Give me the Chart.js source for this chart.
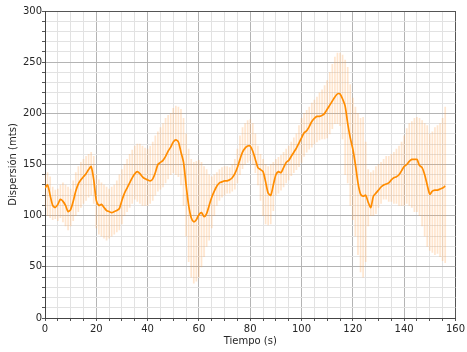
<!DOCTYPE html>
<html>
<head>
<meta charset="utf-8">
<script src="https://cdn.jsdelivr.net/npm/chart.js@4/dist/chart.umd.min.js"></script>
<style>
  html, body { margin: 0; padding: 0; background: #fff; }
  #wrap { width: 467px; height: 352px; }
</style>
</head>
<body>
<div id="wrap"><canvas id="dispChart"></canvas></div>
<script>
// tiempo (s), una muestra por segundo
const tiempos = Array.from({ length: 157 }, (_, i) => i);

// dispersión media (mts)
const dispersion = [
  127, 130, 120, 110, 108, 111, 116, 114, 110, 104,
  106, 114, 124, 131, 135, 138, 141, 145, 148, 135,
  115, 110, 111, 108, 105, 104, 103, 104, 105, 107,
  115, 122, 127, 132, 137, 141, 143, 141, 138, 136,
  135, 134, 136, 142, 150, 152, 154, 158, 163, 167,
  172, 174, 172, 162, 152, 130, 110, 98, 94, 96,
  101, 103, 99, 102, 110, 118, 124, 129, 132, 133,
  134, 134, 135, 137, 141, 147, 155, 162, 166, 168,
  168, 163, 155, 147, 145, 143, 133, 122, 120, 130,
  140, 143, 142, 147, 152, 154, 158, 162, 166, 171,
  176, 181, 183, 187, 192, 195, 197, 197, 198, 200,
  204, 208, 212, 216, 219, 219, 214, 207, 190, 176,
  165, 150, 132, 121, 119, 120, 113, 108, 119, 122,
  125, 128, 130, 131, 132, 135, 137, 138, 140, 144,
  148, 150, 153, 155, 155, 155, 149, 147, 140, 130,
  121, 124, 125, 125, 126, 127, 129
];

// extremos inferior y superior de cada barra de dispersión
const dispMin = [
  108, 100, 98, 96, 97, 95, 98, 94, 90, 86,
  90, 95, 100, 104, 108, 112, 115, 118, 120, 112,
  88, 82, 80, 78, 76, 78, 80, 82, 84, 86,
  92, 100, 104, 108, 112, 116, 114, 112, 110, 110,
  110, 112, 115, 120, 124, 126, 128, 132, 136, 140,
  142, 140, 138, 130, 110, 80, 55, 40, 34, 36,
  40, 50, 60, 70, 76, 88, 100, 110, 115, 118,
  120, 122, 122, 124, 126, 132, 140, 146, 150, 152,
  154, 150, 142, 130, 115, 100, 92, 91, 92, 105,
  120, 122, 125, 128, 132, 135, 139, 142, 145, 148,
  152, 158, 162, 165, 167, 170, 172, 174, 175, 175,
  176, 180, 185, 190, 190, 188, 175, 140, 132, 110,
  96, 80, 62, 45, 40, 55, 90, 100, 100, 102,
  108, 112, 116, 116, 114, 114, 112, 112, 110, 110,
  110, 112, 110, 108, 104, 104, 100, 90, 80, 70,
  66, 64, 62, 63, 60, 56, 54
];
const dispMax = [
  140, 142, 138, 128, 125, 126, 130, 132, 130, 128,
  126, 134, 142, 148, 152, 155, 158, 160, 162, 158,
  140, 135, 132, 130, 128, 126, 128, 130, 134, 140,
  145, 150, 155, 160, 164, 168, 170, 170, 168, 166,
  165, 168, 172, 178, 182, 186, 190, 195, 198, 200,
  205, 207, 206, 204, 195, 180, 165, 155, 152, 153,
  154, 152, 148, 145, 140, 138, 140, 142, 145, 147,
  148, 148, 147, 150, 155, 165, 178, 186, 190, 193,
  194, 190, 180, 168, 160, 155, 150, 148, 150, 152,
  155, 157, 159, 162, 165, 168, 172, 176, 180, 188,
  195, 200, 203, 206, 210, 213, 216, 220, 223, 227,
  232, 240, 248, 255, 259, 259, 257, 252, 245, 228,
  215, 206, 200, 195, 196, 172, 145, 142, 144, 148,
  150, 152, 155, 158, 158, 160, 162, 165, 168, 172,
  178, 185, 190, 192, 195, 196, 195, 193, 190, 188,
  180, 182, 186, 188, 190, 195, 206
];

const fuente = "'DejaVu Sans', sans-serif";
const texto = '#262626';

const ctx = document.getElementById('dispChart').getContext('2d');
new Chart(ctx, {
  type: 'line',
  data: {
    datasets: [{
      type: 'line',
      data: tiempos.map((t, i) => ({ x: t, y: dispersion[i] })),
      borderColor: '#ff8c00',
      borderWidth: 1.7,
      pointRadius: 0,
      tension: 0.25,
      order: 0
    }, {
      type: 'bar',
      data: tiempos.map((t, i) => ({ x: t, y: [dispMin[i], dispMax[i]] })),
      backgroundColor: 'rgba(255, 170, 90, 0.3)',
      borderWidth: 0,
      barThickness: 1,
      grouped: false,
      order: 1
    }]
  },
  options: {
    responsive: true,
    maintainAspectRatio: false,
    animation: false,
    layout: { autoPadding: false, padding: { top: 11, right: 9, left: 7, bottom: 0 } },
    plugins: { legend: { display: false }, tooltip: { enabled: false } },
    scales: {
      x: {
        type: 'linear',
        min: 0,
        max: 160,
        offset: false,
        ticks: {
          stepSize: 5,
          autoSkip: false,
          maxRotation: 0,
          padding: 2,
          color: texto,
          font: { family: fuente, size: 10 },
          callback: v => (v % 20 === 0 ? v : '')
        },
        grid: {
          offset: false,
          tickLength: 3,
          tickColor: '#555',
          color: c => (c.tick.value === 160 ? '#555' : c.tick.value % 20 === 0 ? '#b4b4b4' : '#e2e2e2')
        },
        border: { color: '#444', width: 1 },
        title: {
          display: true,
          text: 'Tiempo (s)',
          color: texto,
          font: { family: fuente, size: 10 },
          padding: { top: 1, bottom: 5 }
        },
        afterFit: s => { s.height = 34; }
      },
      y: {
        min: 0,
        max: 300,
        ticks: {
          stepSize: 10,
          autoSkip: false,
          padding: 0,
          color: texto,
          font: { family: fuente, size: 10 },
          callback: v => (v % 50 === 0 ? v : '')
        },
        grid: {
          tickLength: 3,
          tickColor: '#555',
          color: c => (c.tick.value === 300 ? '#555' : c.tick.value % 50 === 0 ? '#b4b4b4' : '#e2e2e2')
        },
        border: { color: '#444', width: 1 },
        title: {
          display: true,
          text: 'Dispersión (mts)',
          color: texto,
          font: { family: fuente, size: 10 },
          padding: { top: 0, bottom: 4 }
        },
        afterFit: s => { s.width = 38; }
      }
    }
  }
});
</script>
</body>
</html>
